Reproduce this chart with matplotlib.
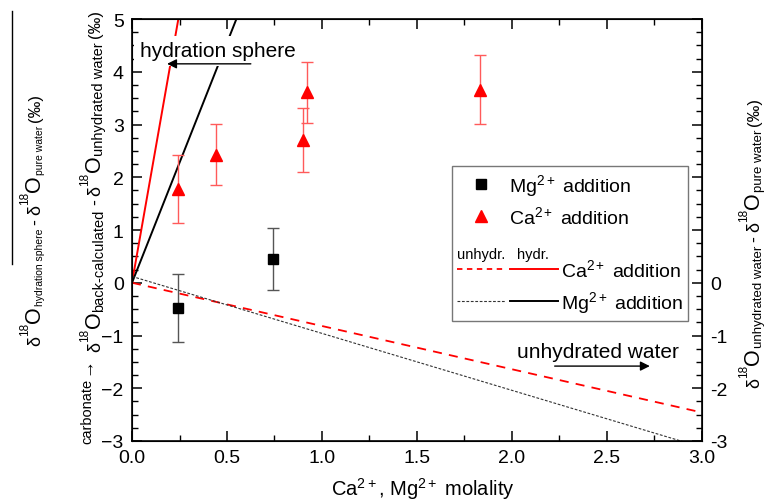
import numpy as np
import matplotlib
matplotlib.use("Agg")
import matplotlib.pyplot as plt
from matplotlib.lines import Line2D
from matplotlib.patches import Rectangle
from matplotlib.legend_handler import HandlerTuple
from matplotlib.transforms import IdentityTransform

plt.rcParams['font.family'] = ['Liberation Sans', 'DejaVu Sans']
plt.rcParams['mathtext.fontset'] = 'custom'
plt.rcParams['mathtext.rm'] = 'Liberation Sans'
plt.rcParams['mathtext.it'] = 'Liberation Sans:italic'
plt.rcParams['mathtext.bf'] = 'Liberation Sans:bold'

# measured points
ca_x = [0.24, 0.44, 0.90, 0.92, 1.83]
ca_y = [1.78, 2.43, 2.71, 3.61, 3.66]
ca_err = [0.65, 0.58, 0.61, 0.58, 0.65]
mg_x = [0.24, 0.74]
mg_y = [-0.48, 0.45]
mg_err = [0.65, 0.58]

# model lines
unhyd_x = [0.0, 3.0]
ca_unhyd_y = [0.0, -2.46]
mg_unhyd_y = [0.12, -3.12]
hyd_x = [0.0, 0.6]
ca_hyd_y = [0.0, 12.3]
mg_hyd_y = [0.0, 5.46]

W, H = 769, 502
fig = plt.figure(figsize=(W / 100, H / 100), dpi=100)
L, R, T, B = 132, 702, 20, 442
ax = fig.add_axes([L / W, 1 - B / H, (R - L) / W, (B - T) / H])

def axc(px, py):
    return (px - L) / (R - L), (B - py) / (B - T)

ax.plot(hyd_x, ca_hyd_y, color='red', lw=1.4, zorder=2)
ax.plot(hyd_x, mg_hyd_y, color='black', lw=1.4, zorder=2)
ax.plot(unhyd_x, ca_unhyd_y, color='red', lw=1.3, ls=(0, (5, 4)), zorder=2)
ax.plot(unhyd_x, mg_unhyd_y, color='#333333', lw=0.8, ls=(0, (2.5, 1.5)), zorder=2)

ax.errorbar(ca_x, ca_y, yerr=ca_err, fmt='none', ecolor='#ff5a5a', elinewidth=1.0,
            capsize=4, capthick=1.0, zorder=3)
ax.plot(ca_x, ca_y, '^', color='red', ms=9, ls='none', zorder=4)
ax.errorbar(mg_x, mg_y, yerr=mg_err, fmt='none', ecolor='#555555', elinewidth=1.0,
            capsize=4, capthick=1.0, zorder=3)
ax.plot(mg_x, mg_y, 's', color='black', ms=7, ls='none', zorder=4)

ax.set_xlim(0, 3)
ax.set_ylim(-3, 5)
ax.set_xticks(np.arange(0, 3.01, 0.5))
ax.set_xticks(np.arange(0, 3.01, 0.25), minor=True)
ax.set_yticks(np.arange(-3, 5.01, 1))
ax.set_yticks(np.arange(-3, 5.01, 0.25), minor=True)
ax.xaxis.set_major_formatter(matplotlib.ticker.FormatStrFormatter('%.1f'))
ax.tick_params(which='both', direction='in', top=True, right=False, labelsize=14, pad=6)
ax.tick_params(which='major', length=7, width=1.1)
ax.tick_params(which='minor', length=4, width=1.0)
for s in ax.spines.values():
    s.set_linewidth(1.2)

ax2 = ax.twinx()
ax2.set_ylim(-3, 5)
ax2.set_yticks(np.arange(-3, 5.01, 1))
ax2.set_yticks(np.arange(-3, 5.01, 0.25), minor=True)
ax2.yaxis.set_major_formatter(matplotlib.ticker.FuncFormatter(
    lambda v, p: '%d' % v if v <= 0 else ''))
ax2.tick_params(which='both', direction='in', labelsize=14, pad=6)
ax2.tick_params(which='major', length=7, width=1.1)
ax2.tick_params(which='minor', length=4, width=1.0)

ax.set_xlabel(r'Ca$^{2+}$, Mg$^{2+}$ molality', fontsize=14.5)
ax.xaxis.set_label_coords((423 - L) / (R - L), (B - 476) / (B - T))

# annotations
ax.text(0.042, 4.40, 'hydration sphere', fontsize=15, ha='left', va='center',
        bbox=dict(fc='white', ec='none', pad=4), zorder=5)
ax.annotate('', xy=(0.17, 4.15), xytext=(0.64, 4.15),
            arrowprops=dict(arrowstyle='-|>', color='black', lw=1.0, mutation_scale=14), zorder=6)
ax.text(2.026, -1.30, 'unhydrated water', fontsize=15, ha='left', va='center', zorder=5)
ax.annotate('', xy=(2.74, -1.58), xytext=(2.21, -1.58),
            arrowprops=dict(arrowstyle='-|>', color='black', lw=1.0, mutation_scale=14), zorder=6)

# legend frame and entries
x0, y0 = axc(452, 322)
x1, y1 = axc(688, 167)
ax.add_patch(Rectangle((x0, y0), x1 - x0, y1 - y0, transform=ax.transAxes,
                       fill=True, fc='white', ec='#777777', lw=1.0, zorder=7))

h_mg = Line2D([], [], marker='s', color='black', ms=7, ls='none')
h_ca = Line2D([], [], marker='^', color='red', ms=9, ls='none')
leg1 = ax.legend([h_mg, h_ca], [r'Mg$^{2+}$ addition', r'Ca$^{2+}$ addition'],
                 loc='upper left', bbox_to_anchor=axc(470, 173), frameon=False,
                 fontsize=14, handlelength=1.1, handletextpad=0.9, borderpad=0,
                 borderaxespad=0, labelspacing=0.36)
leg1.set_zorder(8)
ax.add_artist(leg1)

ca_d = Line2D([], [], color='red', lw=1.3, ls=(0, (3, 2.5)))
ca_s = Line2D([], [], color='red', lw=1.4)
mg_d = Line2D([], [], color='#333333', lw=0.8, ls=(0, (2.5, 1.5)))
mg_s = Line2D([], [], color='black', lw=1.4)
leg2 = ax.legend([(ca_d, ca_s), (mg_d, mg_s)], [r'Ca$^{2+}$ addition', r'Mg$^{2+}$ addition'],
                 handler_map={tuple: HandlerTuple(ndivide=None, pad=0.3)},
                 loc='upper left', bbox_to_anchor=axc(457, 259), frameon=False,
                 fontsize=14, handlelength=5.2, handletextpad=0.15, borderpad=0,
                 borderaxespad=0, labelspacing=0.45)
leg2.set_zorder(8)

ax.text(*axc(481, 255), 'unhydr.', transform=ax.transAxes, fontsize=10.5,
        ha='center', va='center', zorder=9)
ax.text(*axc(533, 255), 'hydr.', transform=ax.transAxes, fontsize=10.5,
        ha='center', va='center', zorder=9)


# rotated axis titles built from pieces: (text, size, raise_px, gap_after_px)
def stack_label(x_base, y_center, pieces):
    rend = fig.canvas.get_renderer()
    items = []
    for s, size, shift, gap in pieces:
        t = fig.text(0, 0, s, fontsize=size, rotation=90, rotation_mode='anchor',
                     ha='left', va='baseline', transform=IdentityTransform())
        items.append((t, t.get_window_extent(rend).height, shift, gap))
    total = sum(h + g for _, h, _, g in items) - items[-1][3]
    y = y_center - total / 2
    for t, h, shift, gap in items:
        t.set_position((x_base - shift, y))
        y += h + gap


def delta_pieces(sub, subsize):
    return [('δ', 13, 0, 0), ('18', 8.5, 12, 0), ('O', 15.5, 0, 0),
            (sub, subsize, -3, 4)]


outer = delta_pieces('hydration sphere', 7.5) + [('-', 13, 0, 4)] + \
    delta_pieces('pure water', 7.5) + [('(‰)', 12, 0, 0)]
stack_label(40, H - 220, outer)
fig.add_artist(Line2D([12 / W, 12 / W], [1 - 12 / H, 1 - 265 / H], color='black', lw=1.0))

inner = [('carbonate', 10.5, 9, 4), ('→', 13, 9, 5)] + \
    delta_pieces('back-calculated', 10.5) + [('-', 13, 0, 4)] + \
    delta_pieces('unhydrated water', 10.5) + [('(‰)', 12, 0, 0)]
stack_label(100, H - 227, inner)

right = delta_pieces('unhydrated water', 9.5) + [('-', 13, 0, 4)] + \
    delta_pieces('pure water', 9.5) + [('(‰)', 12, 0, 0)]
stack_label(759, H - 243, right)

fig.savefig('out.png', dpi=100)
